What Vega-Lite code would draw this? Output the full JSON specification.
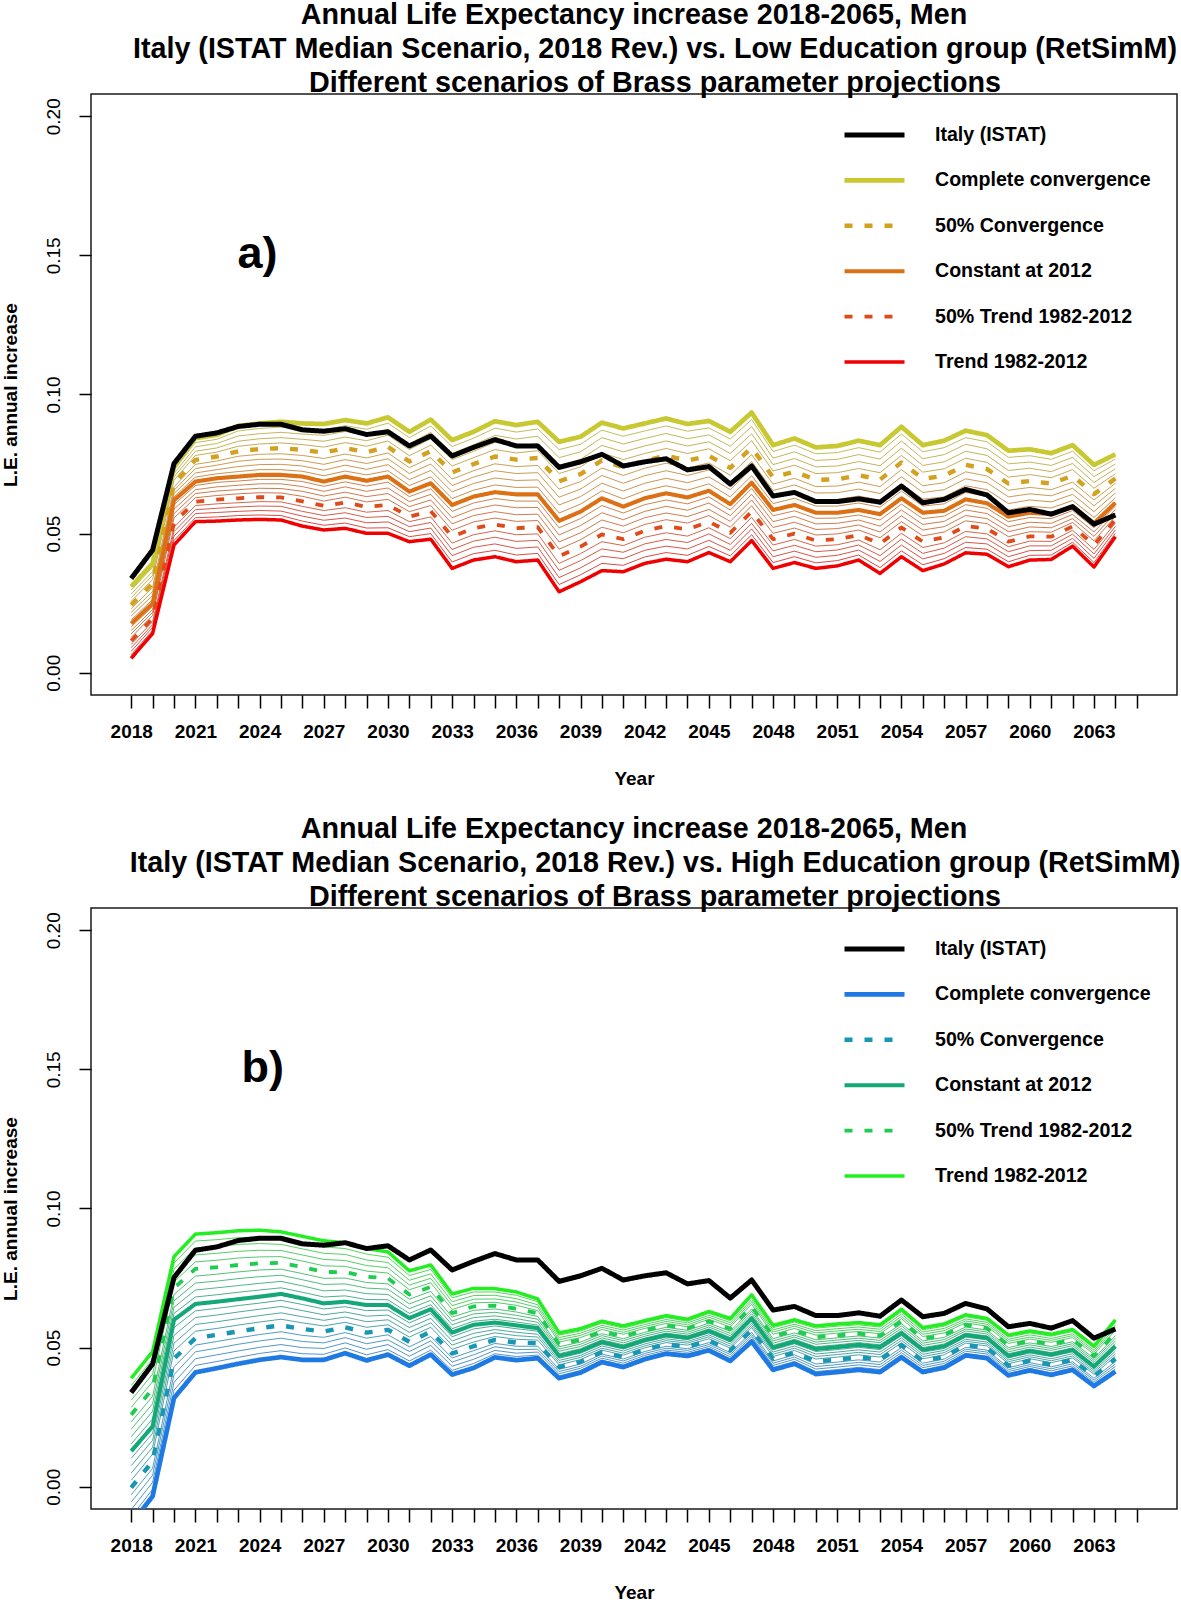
{
"$schema":"https://vega.github.io/schema/vega-lite/v6.json",
"padding":{"left":0,"top":0,"right":0,"bottom":0},
"background":"white",
"spacing":25,
"config":{
"view":{"stroke":"#1a1a1a","strokeWidth":1.5},
"font":"Liberation Sans",
"axis":{"grid":false,"domain":false,"tickColor":"#000","tickWidth":1.5,"labelColor":"#000","titleColor":"#000","labelFont":"Liberation Sans","titleFont":"Liberation Sans"},
"title":{"font":"Liberation Sans","color":"#000"}
},
"resolve":{"scale":{"color":"independent","stroke":"independent","strokeDash":"independent","strokeWidth":"independent"},"legend":{"color":"independent","strokeDash":"independent","strokeWidth":"independent"}},
"datasets":{
"pa":[
{"x":2018,"it":0.0339,"A":0.0310,"B":0.0297,"C":0.0283,"D":0.0270,"E":0.0257,"F":0.0244,"G":0.0230,"H":0.0217,"I":0.0204,"J":0.0190,"K":0.0177,"L":0.0165,"M":0.0152,"N":0.0140,"O":0.0127,"P":0.0115,"Q":0.0102,"R":0.0090,"S":0.0077,"T":0.0065,"U":0.0052},
{"x":2019,"it":0.0441,"A":0.0393,"B":0.0379,"C":0.0364,"D":0.0350,"E":0.0335,"F":0.0321,"G":0.0307,"H":0.0292,"I":0.0278,"J":0.0263,"K":0.0249,"L":0.0238,"M":0.0227,"N":0.0217,"O":0.0206,"P":0.0195,"Q":0.0184,"R":0.0173,"S":0.0163,"T":0.0152,"U":0.0141},
{"x":2020,"it":0.0752,"A":0.0740,"B":0.0728,"C":0.0716,"D":0.0704,"E":0.0692,"F":0.0680,"G":0.0668,"H":0.0656,"I":0.0644,"J":0.0632,"K":0.0620,"L":0.0604,"M":0.0588,"N":0.0572,"O":0.0556,"P":0.0540,"Q":0.0523,"R":0.0507,"S":0.0491,"T":0.0475,"U":0.0459},
{"x":2021,"it":0.0850,"A":0.0843,"B":0.0827,"C":0.0812,"D":0.0796,"E":0.0781,"F":0.0765,"G":0.0749,"H":0.0734,"I":0.0718,"J":0.0703,"K":0.0687,"L":0.0673,"M":0.0658,"N":0.0644,"O":0.0629,"P":0.0615,"Q":0.0601,"R":0.0586,"S":0.0572,"T":0.0557,"U":0.0543},
{"x":2022,"it":0.0862,"A":0.0855,"B":0.0839,"C":0.0824,"D":0.0808,"E":0.0793,"F":0.0777,"G":0.0761,"H":0.0746,"I":0.0730,"J":0.0715,"K":0.0699,"L":0.0684,"M":0.0668,"N":0.0653,"O":0.0637,"P":0.0622,"Q":0.0607,"R":0.0591,"S":0.0576,"T":0.0560,"U":0.0545},
{"x":2023,"it":0.0885,"A":0.0887,"B":0.0869,"C":0.0851,"D":0.0832,"E":0.0814,"F":0.0796,"G":0.0778,"H":0.0760,"I":0.0741,"J":0.0723,"K":0.0705,"L":0.0689,"M":0.0674,"N":0.0658,"O":0.0643,"P":0.0627,"Q":0.0611,"R":0.0596,"S":0.0580,"T":0.0565,"U":0.0549},
{"x":2024,"it":0.0893,"A":0.0896,"B":0.0878,"C":0.0859,"D":0.0841,"E":0.0822,"F":0.0804,"G":0.0785,"H":0.0767,"I":0.0748,"J":0.0730,"K":0.0711,"L":0.0695,"M":0.0679,"N":0.0663,"O":0.0647,"P":0.0631,"Q":0.0615,"R":0.0599,"S":0.0583,"T":0.0567,"U":0.0551},
{"x":2025,"it":0.0893,"A":0.0902,"B":0.0883,"C":0.0864,"D":0.0845,"E":0.0826,"F":0.0807,"G":0.0787,"H":0.0768,"I":0.0749,"J":0.0730,"K":0.0711,"L":0.0695,"M":0.0679,"N":0.0662,"O":0.0646,"P":0.0630,"Q":0.0614,"R":0.0598,"S":0.0581,"T":0.0565,"U":0.0549},
{"x":2026,"it":0.0873,"A":0.0896,"B":0.0877,"C":0.0858,"D":0.0839,"E":0.0820,"F":0.0801,"G":0.0781,"H":0.0762,"I":0.0743,"J":0.0724,"K":0.0705,"L":0.0687,"M":0.0669,"N":0.0652,"O":0.0634,"P":0.0616,"Q":0.0598,"R":0.0580,"S":0.0563,"T":0.0545,"U":0.0527},
{"x":2027,"it":0.0868,"A":0.0894,"B":0.0873,"C":0.0853,"D":0.0832,"E":0.0811,"F":0.0791,"G":0.0770,"H":0.0749,"I":0.0728,"J":0.0708,"K":0.0687,"L":0.0670,"M":0.0652,"N":0.0635,"O":0.0617,"P":0.0600,"Q":0.0583,"R":0.0565,"S":0.0548,"T":0.0530,"U":0.0513},
{"x":2028,"it":0.0877,"A":0.0908,"B":0.0888,"C":0.0867,"D":0.0847,"E":0.0827,"F":0.0807,"G":0.0786,"H":0.0766,"I":0.0746,"J":0.0725,"K":0.0705,"L":0.0686,"M":0.0668,"N":0.0649,"O":0.0631,"P":0.0612,"Q":0.0593,"R":0.0575,"S":0.0556,"T":0.0538,"U":0.0519},
{"x":2029,"it":0.0856,"A":0.0896,"B":0.0875,"C":0.0855,"D":0.0834,"E":0.0814,"F":0.0793,"G":0.0772,"H":0.0752,"I":0.0731,"J":0.0711,"K":0.0690,"L":0.0671,"M":0.0652,"N":0.0633,"O":0.0614,"P":0.0596,"Q":0.0577,"R":0.0558,"S":0.0539,"T":0.0520,"U":0.0501},
{"x":2030,"it":0.0866,"A":0.0918,"B":0.0897,"C":0.0875,"D":0.0854,"E":0.0833,"F":0.0812,"G":0.0790,"H":0.0769,"I":0.0748,"J":0.0726,"K":0.0705,"L":0.0685,"M":0.0664,"N":0.0644,"O":0.0623,"P":0.0603,"Q":0.0583,"R":0.0562,"S":0.0542,"T":0.0521,"U":0.0501},
{"x":2031,"it":0.0815,"A":0.0866,"B":0.0845,"C":0.0823,"D":0.0802,"E":0.0780,"F":0.0759,"G":0.0737,"H":0.0716,"I":0.0694,"J":0.0673,"K":0.0651,"L":0.0633,"M":0.0615,"N":0.0597,"O":0.0579,"P":0.0561,"Q":0.0543,"R":0.0525,"S":0.0507,"T":0.0489,"U":0.0471},
{"x":2032,"it":0.0851,"A":0.0910,"B":0.0887,"C":0.0864,"D":0.0841,"E":0.0818,"F":0.0796,"G":0.0773,"H":0.0750,"I":0.0727,"J":0.0704,"K":0.0681,"L":0.0661,"M":0.0641,"N":0.0621,"O":0.0601,"P":0.0581,"Q":0.0560,"R":0.0540,"S":0.0520,"T":0.0500,"U":0.0480},
{"x":2033,"it":0.0779,"A":0.0836,"B":0.0813,"C":0.0789,"D":0.0766,"E":0.0743,"F":0.0720,"G":0.0696,"H":0.0673,"I":0.0650,"J":0.0626,"K":0.0603,"L":0.0580,"M":0.0557,"N":0.0535,"O":0.0512,"P":0.0489,"Q":0.0466,"R":0.0443,"S":0.0421,"T":0.0398,"U":0.0375},
{"x":2034,"it":0.0810,"A":0.0866,"B":0.0843,"C":0.0819,"D":0.0796,"E":0.0773,"F":0.0750,"G":0.0726,"H":0.0703,"I":0.0680,"J":0.0656,"K":0.0633,"L":0.0610,"M":0.0587,"N":0.0565,"O":0.0542,"P":0.0519,"Q":0.0496,"R":0.0473,"S":0.0451,"T":0.0428,"U":0.0405},
{"x":2035,"it":0.0838,"A":0.0904,"B":0.0879,"C":0.0853,"D":0.0828,"E":0.0802,"F":0.0777,"G":0.0751,"H":0.0726,"I":0.0700,"J":0.0675,"K":0.0649,"L":0.0626,"M":0.0603,"N":0.0579,"O":0.0556,"P":0.0533,"Q":0.0510,"R":0.0487,"S":0.0463,"T":0.0440,"U":0.0417},
{"x":2036,"it":0.0815,"A":0.0890,"B":0.0865,"C":0.0840,"D":0.0815,"E":0.0790,"F":0.0766,"G":0.0741,"H":0.0716,"I":0.0691,"J":0.0666,"K":0.0641,"L":0.0617,"M":0.0593,"N":0.0568,"O":0.0544,"P":0.0520,"Q":0.0496,"R":0.0472,"S":0.0447,"T":0.0423,"U":0.0399},
{"x":2037,"it":0.0815,"A":0.0902,"B":0.0876,"C":0.0850,"D":0.0824,"E":0.0798,"F":0.0772,"G":0.0745,"H":0.0719,"I":0.0693,"J":0.0667,"K":0.0641,"L":0.0617,"M":0.0594,"N":0.0570,"O":0.0547,"P":0.0523,"Q":0.0499,"R":0.0476,"S":0.0452,"T":0.0429,"U":0.0405},
{"x":2038,"it":0.0738,"A":0.0830,"B":0.0802,"C":0.0773,"D":0.0745,"E":0.0716,"F":0.0688,"G":0.0660,"H":0.0631,"I":0.0603,"J":0.0574,"K":0.0546,"L":0.0521,"M":0.0495,"N":0.0470,"O":0.0444,"P":0.0419,"Q":0.0393,"R":0.0368,"S":0.0342,"T":0.0317,"U":0.0291},
{"x":2039,"it":0.0758,"A":0.0848,"B":0.0821,"C":0.0794,"D":0.0767,"E":0.0740,"F":0.0714,"G":0.0687,"H":0.0660,"I":0.0633,"J":0.0606,"K":0.0579,"L":0.0554,"M":0.0529,"N":0.0503,"O":0.0478,"P":0.0453,"Q":0.0428,"R":0.0403,"S":0.0377,"T":0.0352,"U":0.0327},
{"x":2040,"it":0.0785,"A":0.0899,"B":0.0872,"C":0.0845,"D":0.0817,"E":0.0790,"F":0.0763,"G":0.0736,"H":0.0709,"I":0.0681,"J":0.0654,"K":0.0627,"L":0.0601,"M":0.0575,"N":0.0549,"O":0.0523,"P":0.0497,"Q":0.0471,"R":0.0445,"S":0.0419,"T":0.0393,"U":0.0367},
{"x":2041,"it":0.0743,"A":0.0878,"B":0.0850,"C":0.0822,"D":0.0794,"E":0.0766,"F":0.0738,"G":0.0709,"H":0.0681,"I":0.0653,"J":0.0625,"K":0.0597,"L":0.0574,"M":0.0550,"N":0.0527,"O":0.0503,"P":0.0480,"Q":0.0457,"R":0.0433,"S":0.0410,"T":0.0386,"U":0.0363},
{"x":2042,"it":0.0758,"A":0.0896,"B":0.0869,"C":0.0842,"D":0.0815,"E":0.0788,"F":0.0762,"G":0.0735,"H":0.0708,"I":0.0681,"J":0.0654,"K":0.0627,"L":0.0604,"M":0.0580,"N":0.0557,"O":0.0533,"P":0.0510,"Q":0.0487,"R":0.0463,"S":0.0440,"T":0.0416,"U":0.0393},
{"x":2043,"it":0.0769,"A":0.0914,"B":0.0887,"C":0.0860,"D":0.0833,"E":0.0806,"F":0.0780,"G":0.0753,"H":0.0726,"I":0.0699,"J":0.0672,"K":0.0645,"L":0.0621,"M":0.0598,"N":0.0574,"O":0.0550,"P":0.0527,"Q":0.0503,"R":0.0479,"S":0.0455,"T":0.0432,"U":0.0408},
{"x":2044,"it":0.0729,"A":0.0894,"B":0.0868,"C":0.0841,"D":0.0815,"E":0.0788,"F":0.0762,"G":0.0736,"H":0.0709,"I":0.0683,"J":0.0656,"K":0.0630,"L":0.0607,"M":0.0584,"N":0.0561,"O":0.0538,"P":0.0515,"Q":0.0491,"R":0.0468,"S":0.0445,"T":0.0422,"U":0.0399},
{"x":2045,"it":0.0741,"A":0.0905,"B":0.0880,"C":0.0855,"D":0.0830,"E":0.0805,"F":0.0780,"G":0.0754,"H":0.0729,"I":0.0704,"J":0.0679,"K":0.0654,"L":0.0632,"M":0.0610,"N":0.0587,"O":0.0565,"P":0.0543,"Q":0.0521,"R":0.0499,"S":0.0476,"T":0.0454,"U":0.0432},
{"x":2046,"it":0.0678,"A":0.0866,"B":0.0840,"C":0.0814,"D":0.0788,"E":0.0762,"F":0.0736,"G":0.0710,"H":0.0684,"I":0.0658,"J":0.0632,"K":0.0606,"L":0.0585,"M":0.0565,"N":0.0544,"O":0.0523,"P":0.0503,"Q":0.0482,"R":0.0461,"S":0.0440,"T":0.0420,"U":0.0399},
{"x":2047,"it":0.0743,"A":0.0935,"B":0.0910,"C":0.0885,"D":0.0859,"E":0.0834,"F":0.0809,"G":0.0784,"H":0.0759,"I":0.0733,"J":0.0708,"K":0.0683,"L":0.0662,"M":0.0641,"N":0.0621,"O":0.0600,"P":0.0579,"Q":0.0558,"R":0.0537,"S":0.0517,"T":0.0496,"U":0.0475},
{"x":2048,"it":0.0635,"A":0.0818,"B":0.0795,"C":0.0771,"D":0.0748,"E":0.0725,"F":0.0702,"G":0.0678,"H":0.0655,"I":0.0632,"J":0.0608,"K":0.0585,"L":0.0564,"M":0.0543,"N":0.0522,"O":0.0501,"P":0.0480,"Q":0.0459,"R":0.0438,"S":0.0417,"T":0.0396,"U":0.0375},
{"x":2049,"it":0.0648,"A":0.0842,"B":0.0818,"C":0.0794,"D":0.0770,"E":0.0746,"F":0.0723,"G":0.0699,"H":0.0675,"I":0.0651,"J":0.0627,"K":0.0603,"L":0.0582,"M":0.0562,"N":0.0541,"O":0.0520,"P":0.0500,"Q":0.0479,"R":0.0458,"S":0.0437,"T":0.0417,"U":0.0396},
{"x":2050,"it":0.0615,"A":0.0810,"B":0.0787,"C":0.0763,"D":0.0740,"E":0.0716,"F":0.0693,"G":0.0669,"H":0.0646,"I":0.0622,"J":0.0599,"K":0.0575,"L":0.0555,"M":0.0535,"N":0.0515,"O":0.0495,"P":0.0475,"Q":0.0455,"R":0.0435,"S":0.0415,"T":0.0395,"U":0.0375},
{"x":2051,"it":0.0615,"A":0.0815,"B":0.0791,"C":0.0767,"D":0.0743,"E":0.0719,"F":0.0695,"G":0.0671,"H":0.0647,"I":0.0623,"J":0.0599,"K":0.0575,"L":0.0556,"M":0.0537,"N":0.0518,"O":0.0499,"P":0.0480,"Q":0.0460,"R":0.0441,"S":0.0422,"T":0.0403,"U":0.0384},
{"x":2052,"it":0.0625,"A":0.0834,"B":0.0809,"C":0.0784,"D":0.0759,"E":0.0734,"F":0.0710,"G":0.0685,"H":0.0660,"I":0.0635,"J":0.0610,"K":0.0585,"L":0.0567,"M":0.0549,"N":0.0531,"O":0.0513,"P":0.0495,"Q":0.0477,"R":0.0459,"S":0.0441,"T":0.0423,"U":0.0405},
{"x":2053,"it":0.0613,"A":0.0818,"B":0.0793,"C":0.0768,"D":0.0744,"E":0.0719,"F":0.0694,"G":0.0669,"H":0.0644,"I":0.0620,"J":0.0595,"K":0.0570,"L":0.0549,"M":0.0527,"N":0.0506,"O":0.0485,"P":0.0464,"Q":0.0442,"R":0.0421,"S":0.0400,"T":0.0378,"U":0.0357},
{"x":2054,"it":0.0671,"A":0.0884,"B":0.0858,"C":0.0833,"D":0.0807,"E":0.0781,"F":0.0756,"G":0.0730,"H":0.0704,"I":0.0678,"J":0.0653,"K":0.0627,"L":0.0606,"M":0.0585,"N":0.0564,"O":0.0543,"P":0.0522,"Q":0.0501,"R":0.0480,"S":0.0459,"T":0.0438,"U":0.0417},
{"x":2055,"it":0.0611,"A":0.0818,"B":0.0794,"C":0.0769,"D":0.0745,"E":0.0721,"F":0.0697,"G":0.0672,"H":0.0648,"I":0.0624,"J":0.0599,"K":0.0575,"L":0.0554,"M":0.0533,"N":0.0513,"O":0.0492,"P":0.0471,"Q":0.0450,"R":0.0429,"S":0.0409,"T":0.0388,"U":0.0367},
{"x":2056,"it":0.0623,"A":0.0834,"B":0.0809,"C":0.0784,"D":0.0758,"E":0.0733,"F":0.0708,"G":0.0683,"H":0.0658,"I":0.0632,"J":0.0607,"K":0.0582,"L":0.0563,"M":0.0544,"N":0.0525,"O":0.0506,"P":0.0487,"Q":0.0467,"R":0.0448,"S":0.0429,"T":0.0410,"U":0.0391},
{"x":2057,"it":0.0659,"A":0.0870,"B":0.0845,"C":0.0821,"D":0.0796,"E":0.0771,"F":0.0747,"G":0.0722,"H":0.0697,"I":0.0672,"J":0.0648,"K":0.0623,"L":0.0604,"M":0.0585,"N":0.0565,"O":0.0546,"P":0.0527,"Q":0.0508,"R":0.0489,"S":0.0469,"T":0.0450,"U":0.0431},
{"x":2058,"it":0.0639,"A":0.0854,"B":0.0830,"C":0.0805,"D":0.0781,"E":0.0756,"F":0.0732,"G":0.0707,"H":0.0683,"I":0.0658,"J":0.0634,"K":0.0609,"L":0.0591,"M":0.0572,"N":0.0554,"O":0.0536,"P":0.0518,"Q":0.0499,"R":0.0481,"S":0.0463,"T":0.0444,"U":0.0426},
{"x":2059,"it":0.0575,"A":0.0798,"B":0.0774,"C":0.0751,"D":0.0727,"E":0.0703,"F":0.0680,"G":0.0656,"H":0.0632,"I":0.0608,"J":0.0585,"K":0.0561,"L":0.0543,"M":0.0525,"N":0.0507,"O":0.0489,"P":0.0471,"Q":0.0453,"R":0.0435,"S":0.0417,"T":0.0399,"U":0.0381},
{"x":2060,"it":0.0587,"A":0.0803,"B":0.0780,"C":0.0757,"D":0.0735,"E":0.0712,"F":0.0689,"G":0.0666,"H":0.0643,"I":0.0621,"J":0.0598,"K":0.0575,"L":0.0558,"M":0.0541,"N":0.0524,"O":0.0507,"P":0.0490,"Q":0.0473,"R":0.0456,"S":0.0439,"T":0.0422,"U":0.0405},
{"x":2061,"it":0.0570,"A":0.0789,"B":0.0767,"C":0.0745,"D":0.0723,"E":0.0701,"F":0.0680,"G":0.0658,"H":0.0636,"I":0.0614,"J":0.0592,"K":0.0570,"L":0.0554,"M":0.0537,"N":0.0521,"O":0.0505,"P":0.0489,"Q":0.0472,"R":0.0456,"S":0.0440,"T":0.0423,"U":0.0407},
{"x":2062,"it":0.0597,"A":0.0818,"B":0.0796,"C":0.0774,"D":0.0752,"E":0.0730,"F":0.0708,"G":0.0685,"H":0.0663,"I":0.0641,"J":0.0619,"K":0.0597,"L":0.0583,"M":0.0569,"N":0.0554,"O":0.0540,"P":0.0526,"Q":0.0512,"R":0.0498,"S":0.0483,"T":0.0469,"U":0.0455},
{"x":2063,"it":0.0534,"A":0.0747,"B":0.0726,"C":0.0705,"D":0.0684,"E":0.0663,"F":0.0642,"G":0.0621,"H":0.0600,"I":0.0579,"J":0.0558,"K":0.0537,"L":0.0521,"M":0.0506,"N":0.0490,"O":0.0474,"P":0.0459,"Q":0.0443,"R":0.0427,"S":0.0411,"T":0.0396,"U":0.0380},
{"x":2064,"it":0.0567,"A":0.0785,"B":0.0768,"C":0.0750,"D":0.0733,"E":0.0715,"F":0.0698,"G":0.0681,"H":0.0663,"I":0.0646,"J":0.0628,"K":0.0611,"L":0.0599,"M":0.0587,"N":0.0574,"O":0.0562,"P":0.0550,"Q":0.0538,"R":0.0526,"S":0.0513,"T":0.0501,"U":0.0489}
],
"pb":[
{"x":2018,"it":0.0339,"A":-0.0134,"B":-0.0108,"C":-0.0082,"D":-0.0055,"E":-0.0029,"F":-0.0003,"G":0.0023,"H":0.0049,"I":0.0076,"J":0.0102,"K":0.0128,"L":0.0154,"M":0.0180,"N":0.0207,"O":0.0233,"P":0.0259,"Q":0.0285,"R":0.0311,"S":0.0338,"T":0.0364,"U":0.0390},
{"x":2019,"it":0.0441,"A":-0.0034,"B":-0.0009,"C":0.0016,"D":0.0041,"E":0.0066,"F":0.0092,"G":0.0117,"H":0.0142,"I":0.0167,"J":0.0192,"K":0.0217,"L":0.0244,"M":0.0271,"N":0.0298,"O":0.0325,"P":0.0352,"Q":0.0378,"R":0.0405,"S":0.0432,"T":0.0459,"U":0.0486},
{"x":2020,"it":0.0752,"A":0.0319,"B":0.0347,"C":0.0375,"D":0.0403,"E":0.0431,"F":0.0460,"G":0.0488,"H":0.0516,"I":0.0544,"J":0.0572,"K":0.0600,"L":0.0623,"M":0.0645,"N":0.0668,"O":0.0691,"P":0.0714,"Q":0.0736,"R":0.0759,"S":0.0782,"T":0.0804,"U":0.0827},
{"x":2021,"it":0.0850,"A":0.0411,"B":0.0436,"C":0.0460,"D":0.0485,"E":0.0509,"F":0.0534,"G":0.0559,"H":0.0583,"I":0.0608,"J":0.0632,"K":0.0657,"L":0.0682,"M":0.0707,"N":0.0732,"O":0.0757,"P":0.0783,"Q":0.0808,"R":0.0833,"S":0.0858,"T":0.0883,"U":0.0908},
{"x":2022,"it":0.0862,"A":0.0426,"B":0.0450,"C":0.0474,"D":0.0498,"E":0.0522,"F":0.0546,"G":0.0569,"H":0.0593,"I":0.0617,"J":0.0641,"K":0.0665,"L":0.0690,"M":0.0715,"N":0.0739,"O":0.0764,"P":0.0789,"Q":0.0814,"R":0.0839,"S":0.0863,"T":0.0888,"U":0.0913},
{"x":2023,"it":0.0885,"A":0.0442,"B":0.0465,"C":0.0488,"D":0.0512,"E":0.0535,"F":0.0558,"G":0.0581,"H":0.0604,"I":0.0628,"J":0.0651,"K":0.0674,"L":0.0699,"M":0.0723,"N":0.0748,"O":0.0772,"P":0.0797,"Q":0.0822,"R":0.0846,"S":0.0871,"T":0.0895,"U":0.0920},
{"x":2024,"it":0.0893,"A":0.0456,"B":0.0479,"C":0.0501,"D":0.0524,"E":0.0547,"F":0.0570,"G":0.0592,"H":0.0615,"I":0.0638,"J":0.0660,"K":0.0683,"L":0.0707,"M":0.0731,"N":0.0755,"O":0.0779,"P":0.0803,"Q":0.0826,"R":0.0850,"S":0.0874,"T":0.0898,"U":0.0922},
{"x":2025,"it":0.0893,"A":0.0466,"B":0.0489,"C":0.0511,"D":0.0534,"E":0.0557,"F":0.0580,"G":0.0602,"H":0.0625,"I":0.0648,"J":0.0670,"K":0.0693,"L":0.0715,"M":0.0738,"N":0.0760,"O":0.0782,"P":0.0805,"Q":0.0827,"R":0.0849,"S":0.0871,"T":0.0894,"U":0.0916},
{"x":2026,"it":0.0873,"A":0.0456,"B":0.0478,"C":0.0500,"D":0.0522,"E":0.0544,"F":0.0567,"G":0.0589,"H":0.0611,"I":0.0633,"J":0.0655,"K":0.0677,"L":0.0699,"M":0.0722,"N":0.0744,"O":0.0766,"P":0.0789,"Q":0.0811,"R":0.0833,"S":0.0855,"T":0.0878,"U":0.0900},
{"x":2027,"it":0.0868,"A":0.0456,"B":0.0476,"C":0.0497,"D":0.0517,"E":0.0537,"F":0.0558,"G":0.0578,"H":0.0598,"I":0.0618,"J":0.0639,"K":0.0659,"L":0.0682,"M":0.0704,"N":0.0727,"O":0.0749,"P":0.0772,"Q":0.0794,"R":0.0817,"S":0.0839,"T":0.0862,"U":0.0884},
{"x":2028,"it":0.0877,"A":0.0480,"B":0.0499,"C":0.0517,"D":0.0536,"E":0.0554,"F":0.0573,"G":0.0591,"H":0.0610,"I":0.0628,"J":0.0647,"K":0.0665,"L":0.0686,"M":0.0707,"N":0.0729,"O":0.0750,"P":0.0771,"Q":0.0792,"R":0.0813,"S":0.0835,"T":0.0856,"U":0.0877},
{"x":2029,"it":0.0856,"A":0.0454,"B":0.0474,"C":0.0494,"D":0.0514,"E":0.0534,"F":0.0554,"G":0.0573,"H":0.0593,"I":0.0613,"J":0.0633,"K":0.0653,"L":0.0673,"M":0.0694,"N":0.0714,"O":0.0734,"P":0.0755,"Q":0.0775,"R":0.0795,"S":0.0815,"T":0.0836,"U":0.0856},
{"x":2030,"it":0.0866,"A":0.0475,"B":0.0493,"C":0.0511,"D":0.0528,"E":0.0546,"F":0.0564,"G":0.0582,"H":0.0600,"I":0.0617,"J":0.0635,"K":0.0653,"L":0.0672,"M":0.0691,"N":0.0710,"O":0.0729,"P":0.0749,"Q":0.0768,"R":0.0787,"S":0.0806,"T":0.0825,"U":0.0844},
{"x":2031,"it":0.0815,"A":0.0435,"B":0.0452,"C":0.0469,"D":0.0486,"E":0.0503,"F":0.0521,"G":0.0538,"H":0.0555,"I":0.0572,"J":0.0589,"K":0.0606,"L":0.0623,"M":0.0640,"N":0.0657,"O":0.0674,"P":0.0691,"Q":0.0708,"R":0.0725,"S":0.0742,"T":0.0759,"U":0.0776},
{"x":2032,"it":0.0851,"A":0.0475,"B":0.0491,"C":0.0508,"D":0.0524,"E":0.0540,"F":0.0557,"G":0.0573,"H":0.0589,"I":0.0605,"J":0.0622,"K":0.0638,"L":0.0654,"M":0.0670,"N":0.0686,"O":0.0702,"P":0.0718,"Q":0.0733,"R":0.0749,"S":0.0765,"T":0.0781,"U":0.0797},
{"x":2033,"it":0.0779,"A":0.0403,"B":0.0418,"C":0.0433,"D":0.0448,"E":0.0463,"F":0.0479,"G":0.0494,"H":0.0509,"I":0.0524,"J":0.0539,"K":0.0554,"L":0.0568,"M":0.0582,"N":0.0596,"O":0.0610,"P":0.0624,"Q":0.0637,"R":0.0651,"S":0.0665,"T":0.0679,"U":0.0693},
{"x":2034,"it":0.0810,"A":0.0427,"B":0.0443,"C":0.0458,"D":0.0474,"E":0.0489,"F":0.0505,"G":0.0520,"H":0.0536,"I":0.0551,"J":0.0567,"K":0.0582,"L":0.0595,"M":0.0608,"N":0.0621,"O":0.0634,"P":0.0648,"Q":0.0661,"R":0.0674,"S":0.0687,"T":0.0700,"U":0.0713},
{"x":2035,"it":0.0838,"A":0.0465,"B":0.0478,"C":0.0490,"D":0.0503,"E":0.0515,"F":0.0528,"G":0.0540,"H":0.0553,"I":0.0565,"J":0.0578,"K":0.0590,"L":0.0602,"M":0.0614,"N":0.0627,"O":0.0639,"P":0.0651,"Q":0.0663,"R":0.0675,"S":0.0688,"T":0.0700,"U":0.0712},
{"x":2036,"it":0.0815,"A":0.0455,"B":0.0468,"C":0.0480,"D":0.0493,"E":0.0505,"F":0.0518,"G":0.0530,"H":0.0543,"I":0.0555,"J":0.0568,"K":0.0580,"L":0.0592,"M":0.0604,"N":0.0616,"O":0.0628,"P":0.0640,"Q":0.0652,"R":0.0664,"S":0.0676,"T":0.0688,"U":0.0700},
{"x":2037,"it":0.0815,"A":0.0462,"B":0.0473,"C":0.0484,"D":0.0494,"E":0.0505,"F":0.0516,"G":0.0527,"H":0.0538,"I":0.0548,"J":0.0559,"K":0.0570,"L":0.0581,"M":0.0591,"N":0.0602,"O":0.0612,"P":0.0623,"Q":0.0633,"R":0.0644,"S":0.0654,"T":0.0665,"U":0.0675},
{"x":2038,"it":0.0738,"A":0.0390,"B":0.0398,"C":0.0406,"D":0.0414,"E":0.0422,"F":0.0430,"G":0.0438,"H":0.0446,"I":0.0454,"J":0.0462,"K":0.0470,"L":0.0478,"M":0.0487,"N":0.0495,"O":0.0503,"P":0.0512,"Q":0.0520,"R":0.0528,"S":0.0536,"T":0.0545,"U":0.0553},
{"x":2039,"it":0.0758,"A":0.0410,"B":0.0418,"C":0.0426,"D":0.0433,"E":0.0441,"F":0.0449,"G":0.0457,"H":0.0465,"I":0.0472,"J":0.0480,"K":0.0488,"L":0.0496,"M":0.0504,"N":0.0512,"O":0.0520,"P":0.0528,"Q":0.0536,"R":0.0544,"S":0.0552,"T":0.0560,"U":0.0568},
{"x":2040,"it":0.0785,"A":0.0448,"B":0.0455,"C":0.0462,"D":0.0470,"E":0.0477,"F":0.0484,"G":0.0491,"H":0.0498,"I":0.0506,"J":0.0513,"K":0.0520,"L":0.0528,"M":0.0535,"N":0.0543,"O":0.0550,"P":0.0558,"Q":0.0565,"R":0.0573,"S":0.0580,"T":0.0588,"U":0.0595},
{"x":2041,"it":0.0743,"A":0.0430,"B":0.0437,"C":0.0444,"D":0.0452,"E":0.0459,"F":0.0466,"G":0.0473,"H":0.0480,"I":0.0488,"J":0.0495,"K":0.0502,"L":0.0510,"M":0.0517,"N":0.0525,"O":0.0532,"P":0.0540,"Q":0.0548,"R":0.0555,"S":0.0563,"T":0.0570,"U":0.0578},
{"x":2042,"it":0.0758,"A":0.0458,"B":0.0465,"C":0.0472,"D":0.0479,"E":0.0486,"F":0.0493,"G":0.0499,"H":0.0506,"I":0.0513,"J":0.0520,"K":0.0527,"L":0.0534,"M":0.0541,"N":0.0548,"O":0.0555,"P":0.0562,"Q":0.0569,"R":0.0576,"S":0.0583,"T":0.0590,"U":0.0597},
{"x":2043,"it":0.0769,"A":0.0478,"B":0.0485,"C":0.0491,"D":0.0498,"E":0.0505,"F":0.0512,"G":0.0518,"H":0.0525,"I":0.0532,"J":0.0538,"K":0.0545,"L":0.0552,"M":0.0559,"N":0.0566,"O":0.0573,"P":0.0580,"Q":0.0587,"R":0.0594,"S":0.0601,"T":0.0608,"U":0.0615},
{"x":2044,"it":0.0729,"A":0.0470,"B":0.0477,"C":0.0483,"D":0.0490,"E":0.0496,"F":0.0503,"G":0.0509,"H":0.0516,"I":0.0522,"J":0.0529,"K":0.0535,"L":0.0542,"M":0.0548,"N":0.0555,"O":0.0562,"P":0.0569,"Q":0.0575,"R":0.0582,"S":0.0589,"T":0.0595,"U":0.0602},
{"x":2045,"it":0.0741,"A":0.0490,"B":0.0497,"C":0.0504,"D":0.0511,"E":0.0518,"F":0.0525,"G":0.0532,"H":0.0539,"I":0.0546,"J":0.0553,"K":0.0560,"L":0.0567,"M":0.0574,"N":0.0581,"O":0.0588,"P":0.0595,"Q":0.0602,"R":0.0609,"S":0.0616,"T":0.0623,"U":0.0630},
{"x":2046,"it":0.0678,"A":0.0452,"B":0.0460,"C":0.0467,"D":0.0475,"E":0.0482,"F":0.0490,"G":0.0498,"H":0.0505,"I":0.0513,"J":0.0520,"K":0.0528,"L":0.0536,"M":0.0543,"N":0.0551,"O":0.0559,"P":0.0567,"Q":0.0574,"R":0.0582,"S":0.0590,"T":0.0597,"U":0.0605},
{"x":2047,"it":0.0743,"A":0.0522,"B":0.0530,"C":0.0539,"D":0.0547,"E":0.0555,"F":0.0564,"G":0.0572,"H":0.0580,"I":0.0588,"J":0.0597,"K":0.0605,"L":0.0614,"M":0.0622,"N":0.0631,"O":0.0639,"P":0.0648,"Q":0.0656,"R":0.0665,"S":0.0673,"T":0.0682,"U":0.0690},
{"x":2048,"it":0.0635,"A":0.0420,"B":0.0428,"C":0.0436,"D":0.0444,"E":0.0452,"F":0.0460,"G":0.0468,"H":0.0476,"I":0.0484,"J":0.0492,"K":0.0500,"L":0.0508,"M":0.0516,"N":0.0524,"O":0.0532,"P":0.0540,"Q":0.0548,"R":0.0556,"S":0.0564,"T":0.0572,"U":0.0580},
{"x":2049,"it":0.0648,"A":0.0442,"B":0.0450,"C":0.0458,"D":0.0466,"E":0.0474,"F":0.0482,"G":0.0490,"H":0.0498,"I":0.0506,"J":0.0514,"K":0.0522,"L":0.0530,"M":0.0538,"N":0.0545,"O":0.0553,"P":0.0561,"Q":0.0569,"R":0.0577,"S":0.0584,"T":0.0592,"U":0.0600},
{"x":2050,"it":0.0615,"A":0.0405,"B":0.0414,"C":0.0423,"D":0.0432,"E":0.0441,"F":0.0450,"G":0.0459,"H":0.0468,"I":0.0477,"J":0.0486,"K":0.0495,"L":0.0503,"M":0.0512,"N":0.0520,"O":0.0528,"P":0.0537,"Q":0.0545,"R":0.0553,"S":0.0561,"T":0.0570,"U":0.0578},
{"x":2051,"it":0.0615,"A":0.0412,"B":0.0421,"C":0.0430,"D":0.0439,"E":0.0448,"F":0.0457,"G":0.0466,"H":0.0475,"I":0.0484,"J":0.0493,"K":0.0502,"L":0.0510,"M":0.0519,"N":0.0527,"O":0.0535,"P":0.0544,"Q":0.0552,"R":0.0560,"S":0.0568,"T":0.0577,"U":0.0585},
{"x":2052,"it":0.0625,"A":0.0420,"B":0.0429,"C":0.0438,"D":0.0447,"E":0.0456,"F":0.0465,"G":0.0474,"H":0.0483,"I":0.0492,"J":0.0501,"K":0.0510,"L":0.0518,"M":0.0526,"N":0.0534,"O":0.0542,"P":0.0550,"Q":0.0558,"R":0.0566,"S":0.0574,"T":0.0582,"U":0.0590},
{"x":2053,"it":0.0613,"A":0.0412,"B":0.0421,"C":0.0430,"D":0.0439,"E":0.0448,"F":0.0457,"G":0.0466,"H":0.0475,"I":0.0484,"J":0.0493,"K":0.0502,"L":0.0510,"M":0.0518,"N":0.0526,"O":0.0534,"P":0.0542,"Q":0.0550,"R":0.0558,"S":0.0566,"T":0.0574,"U":0.0582},
{"x":2054,"it":0.0671,"A":0.0465,"B":0.0474,"C":0.0482,"D":0.0491,"E":0.0500,"F":0.0509,"G":0.0517,"H":0.0526,"I":0.0535,"J":0.0543,"K":0.0552,"L":0.0561,"M":0.0569,"N":0.0578,"O":0.0586,"P":0.0595,"Q":0.0604,"R":0.0612,"S":0.0621,"T":0.0629,"U":0.0638},
{"x":2055,"it":0.0611,"A":0.0412,"B":0.0420,"C":0.0428,"D":0.0436,"E":0.0444,"F":0.0452,"G":0.0460,"H":0.0468,"I":0.0476,"J":0.0484,"K":0.0492,"L":0.0500,"M":0.0508,"N":0.0516,"O":0.0524,"P":0.0532,"Q":0.0540,"R":0.0548,"S":0.0556,"T":0.0564,"U":0.0572},
{"x":2056,"it":0.0623,"A":0.0428,"B":0.0436,"C":0.0443,"D":0.0451,"E":0.0459,"F":0.0467,"G":0.0474,"H":0.0482,"I":0.0490,"J":0.0497,"K":0.0505,"L":0.0513,"M":0.0521,"N":0.0529,"O":0.0537,"P":0.0545,"Q":0.0553,"R":0.0561,"S":0.0569,"T":0.0577,"U":0.0585},
{"x":2057,"it":0.0659,"A":0.0472,"B":0.0479,"C":0.0487,"D":0.0494,"E":0.0501,"F":0.0509,"G":0.0516,"H":0.0523,"I":0.0530,"J":0.0538,"K":0.0545,"L":0.0552,"M":0.0560,"N":0.0567,"O":0.0574,"P":0.0582,"Q":0.0589,"R":0.0596,"S":0.0603,"T":0.0611,"U":0.0618},
{"x":2058,"it":0.0639,"A":0.0462,"B":0.0469,"C":0.0477,"D":0.0484,"E":0.0491,"F":0.0499,"G":0.0506,"H":0.0513,"I":0.0520,"J":0.0528,"K":0.0535,"L":0.0542,"M":0.0549,"N":0.0556,"O":0.0563,"P":0.0570,"Q":0.0577,"R":0.0584,"S":0.0591,"T":0.0598,"U":0.0605},
{"x":2059,"it":0.0575,"A":0.0400,"B":0.0407,"C":0.0414,"D":0.0421,"E":0.0428,"F":0.0435,"G":0.0442,"H":0.0449,"I":0.0456,"J":0.0463,"K":0.0470,"L":0.0478,"M":0.0485,"N":0.0493,"O":0.0500,"P":0.0508,"Q":0.0515,"R":0.0523,"S":0.0530,"T":0.0538,"U":0.0545},
{"x":2060,"it":0.0587,"A":0.0418,"B":0.0425,"C":0.0432,"D":0.0439,"E":0.0446,"F":0.0453,"G":0.0460,"H":0.0467,"I":0.0474,"J":0.0481,"K":0.0488,"L":0.0495,"M":0.0502,"N":0.0510,"O":0.0517,"P":0.0524,"Q":0.0531,"R":0.0538,"S":0.0546,"T":0.0553,"U":0.0560},
{"x":2061,"it":0.0570,"A":0.0402,"B":0.0409,"C":0.0417,"D":0.0424,"E":0.0431,"F":0.0439,"G":0.0446,"H":0.0453,"I":0.0460,"J":0.0468,"K":0.0475,"L":0.0482,"M":0.0490,"N":0.0497,"O":0.0504,"P":0.0512,"Q":0.0519,"R":0.0526,"S":0.0533,"T":0.0541,"U":0.0548},
{"x":2062,"it":0.0597,"A":0.0420,"B":0.0427,"C":0.0434,"D":0.0442,"E":0.0449,"F":0.0456,"G":0.0463,"H":0.0470,"I":0.0478,"J":0.0485,"K":0.0492,"L":0.0499,"M":0.0507,"N":0.0514,"O":0.0521,"P":0.0529,"Q":0.0536,"R":0.0543,"S":0.0550,"T":0.0558,"U":0.0565},
{"x":2063,"it":0.0534,"A":0.0362,"B":0.0369,"C":0.0376,"D":0.0383,"E":0.0390,"F":0.0397,"G":0.0404,"H":0.0411,"I":0.0418,"J":0.0425,"K":0.0432,"L":0.0439,"M":0.0447,"N":0.0454,"O":0.0461,"P":0.0469,"Q":0.0476,"R":0.0483,"S":0.0490,"T":0.0498,"U":0.0505},
{"x":2064,"it":0.0567,"A":0.0414,"B":0.0423,"C":0.0432,"D":0.0441,"E":0.0450,"F":0.0460,"G":0.0469,"H":0.0478,"I":0.0487,"J":0.0496,"K":0.0505,"L":0.0515,"M":0.0524,"N":0.0534,"O":0.0543,"P":0.0553,"Q":0.0562,"R":0.0572,"S":0.0581,"T":0.0591,"U":0.0600}
]
},
"vconcat":[
{
"width":1086,"height":601,
"title":{"text":["Annual Life Expectancy increase 2018-2065, Men","\u2800\u2800Italy (ISTAT Median Scenario, 2018 Rev.) vs. Low Education group (RetSimM)","\u2800\u2800Different scenarios of Brass parameter projections"],"anchor":"middle","frame":"group","fontSize":28.7,"fontWeight":"bold","lineHeight":34,"offset":-4},
"data":{"name":"pa"},
"encoding":{
"x":{"field":"x","type":"quantitative","scale":{"domain":[2016.12,2066.88],"nice":false,"zero":false},"axis":{"title":"Year","values":[2018,2019,2020,2021,2022,2023,2024,2025,2026,2027,2028,2029,2030,2031,2032,2033,2034,2035,2036,2037,2038,2039,2040,2041,2042,2043,2044,2045,2046,2047,2048,2049,2050,2051,2052,2053,2054,2055,2056,2057,2058,2059,2060,2061,2062,2063,2064,2065],"labelExpr":"(datum.value-2018)%3==0 ? ''+datum.value : ''","tickSize":13,"labelFontSize":19,"labelFontWeight":"bold","labelPadding":14,"labelOverlap":false,"labelFlush":false,"labelBound":false,"titleFontSize":19,"titleFontWeight":"bold","titlePadding":28}},
"y":{"field":"v","type":"quantitative","scale":{"domain":[-0.008,0.208],"nice":false,"zero":false},"axis":{"title":"L.E. annual increase","values":[0,0.05,0.1,0.15,0.2],"format":".2f","labelAngle":-90,"labelAlign":"center","labelBaseline":"bottom","tickSize":12,"labelFontSize":19,"labelPadding":16,"titleFontSize":19,"titleFontWeight":"bold","titlePadding":24}}
},
"layer":[
{"transform":[{"fold":["B","C","D","E","G","H","I","J","L","M","N","O","Q","R","S","T"],"as":["fk","v"]}],
"mark":{"type":"line","strokeWidth":1,"opacity":0.85,"clip":true},
"encoding":{"stroke":{"field":"fk","type":"nominal","scale":{"domain":["B","C","D","E","G","H","I","J","L","M","N","O","Q","R","S","T"],"range":["#B8B042","#BAAA40","#BBA43D","#BE9E3B","#C09036","#C18A34","#C38233","#C47C30","#C66E30","#C76930","#C76330","#C75E31","#CA4C2E","#CC412A","#CF3728","#D22B24"]},"legend":null}}},
{"transform":[{"fold":["A","F","K","P","U","it"],"as":["key","v"]}],
"mark":{"type":"line","clip":true,"strokeJoin":"round","strokeCap":"butt"},
"encoding":{
"color":{"field":"key","type":"nominal","scale":{"domain":["it","A","F","K","P","U"],"range":["#000000","#C8C832","#D4A020","#DC7014","#E04A18","#F00000"]},
"legend":{"orient":"none","legendX":751,"legendY":31,"title":null,"symbolType":"stroke","symbolSize":3600,"clipHeight":20,"rowPadding":25.4,"labelOffset":28,"labelFontSize":19.6,"labelFontWeight":"bold","labelFont":"Liberation Sans","labelColor":"#000","padding":0,"labelLimit":400,"labelExpr":"datum.label=='it'?'Italy (ISTAT)':datum.label=='A'?'Complete convergence':datum.label=='F'?'50% Convergence':datum.label=='K'?'Constant at 2012':datum.label=='P'?'50% Trend 1982-2012':'Trend 1982-2012'"}},
"strokeDash":{"field":"key","type":"nominal","scale":{"domain":["it","A","F","K","P","U"],"range":[[1,0],[1,0],[8,12],[1,0],[8,12],[1,0]]}},
"strokeWidth":{"field":"key","type":"ordinal","scale":{"domain":["it","A","F","K","P","U"],"range":[5,3.5,3.5,3.5,3.5,3.5]}}
}},
{"data":{"values":[{"x":2023.9,"v":0.1505,"t":"a)"}]},
"mark":{"type":"text","fontSize":45,"fontWeight":"bold","font":"Liberation Sans","align":"center","baseline":"middle","color":"#000"},
"encoding":{"text":{"field":"t"}}}
]
},
{
"width":1086,"height":601,
"title":{"text":["Annual Life Expectancy increase 2018-2065, Men","\u2800\u2800Italy (ISTAT Median Scenario, 2018 Rev.) vs. High Education group (RetSimM)","\u2800\u2800Different scenarios of Brass parameter projections"],"anchor":"middle","frame":"group","fontSize":28.7,"fontWeight":"bold","lineHeight":34,"offset":-4},
"data":{"name":"pb"},
"encoding":{
"x":{"field":"x","type":"quantitative","scale":{"domain":[2016.12,2066.88],"nice":false,"zero":false},"axis":{"title":"Year","values":[2018,2019,2020,2021,2022,2023,2024,2025,2026,2027,2028,2029,2030,2031,2032,2033,2034,2035,2036,2037,2038,2039,2040,2041,2042,2043,2044,2045,2046,2047,2048,2049,2050,2051,2052,2053,2054,2055,2056,2057,2058,2059,2060,2061,2062,2063,2064,2065],"labelExpr":"(datum.value-2018)%3==0 ? ''+datum.value : ''","tickSize":13,"labelFontSize":19,"labelFontWeight":"bold","labelPadding":14,"labelOverlap":false,"labelFlush":false,"labelBound":false,"titleFontSize":19,"titleFontWeight":"bold","titlePadding":28}},
"y":{"field":"v","type":"quantitative","scale":{"domain":[-0.008,0.208],"nice":false,"zero":false},"axis":{"title":"L.E. annual increase","values":[0,0.05,0.1,0.15,0.2],"format":".2f","labelAngle":-90,"labelAlign":"center","labelBaseline":"bottom","tickSize":12,"labelFontSize":19,"labelPadding":16,"titleFontSize":19,"titleFontWeight":"bold","titlePadding":24}}
},
"layer":[
{"transform":[{"fold":["B","C","D","E","G","H","I","J","L","M","N","O","Q","R","S","T"],"as":["fk","v"]}],
"mark":{"type":"line","strokeWidth":1,"opacity":0.85,"clip":true},
"encoding":{"stroke":{"field":"fk","type":"nominal","scale":{"domain":["B","C","D","E","G","H","I","J","L","M","N","O","Q","R","S","T"],"range":["#367EC5","#3583BE","#3488B6","#338CAF","#31939E","#319695","#31998C","#309B83","#30A374","#32A96E","#34AF68","#35B462","#37BE55","#38C44F","#38C847","#39CD40"]},"legend":null}}},
{"transform":[{"fold":["A","F","K","P","U","it"],"as":["key","v"]}],
"mark":{"type":"line","clip":true,"strokeJoin":"round","strokeCap":"butt"},
"encoding":{
"color":{"field":"key","type":"nominal","scale":{"domain":["it","A","F","K","P","U"],"range":["#000000","#1E7AE2","#1896B4","#14A878","#1ECC50","#22EE22"]},
"legend":{"orient":"none","legendX":751,"legendY":31,"title":null,"symbolType":"stroke","symbolSize":3600,"clipHeight":20,"rowPadding":25.4,"labelOffset":28,"labelFontSize":19.6,"labelFontWeight":"bold","labelFont":"Liberation Sans","labelColor":"#000","padding":0,"labelLimit":400,"labelExpr":"datum.label=='it'?'Italy (ISTAT)':datum.label=='A'?'Complete convergence':datum.label=='F'?'50% Convergence':datum.label=='K'?'Constant at 2012':datum.label=='P'?'50% Trend 1982-2012':'Trend 1982-2012'"}},
"strokeDash":{"field":"key","type":"nominal","scale":{"domain":["it","A","F","K","P","U"],"range":[[1,0],[1,0],[8,12],[1,0],[8,12],[1,0]]}},
"strokeWidth":{"field":"key","type":"ordinal","scale":{"domain":["it","A","F","K","P","U"],"range":[5,3.5,3.5,3.5,3.5,3.5]}}
}},
{"data":{"values":[{"x":2024.15,"v":0.1505,"t":"b)"}]},
"mark":{"type":"text","fontSize":45,"fontWeight":"bold","font":"Liberation Sans","align":"center","baseline":"middle","color":"#000"},
"encoding":{"text":{"field":"t"}}}
]
}
]
}
